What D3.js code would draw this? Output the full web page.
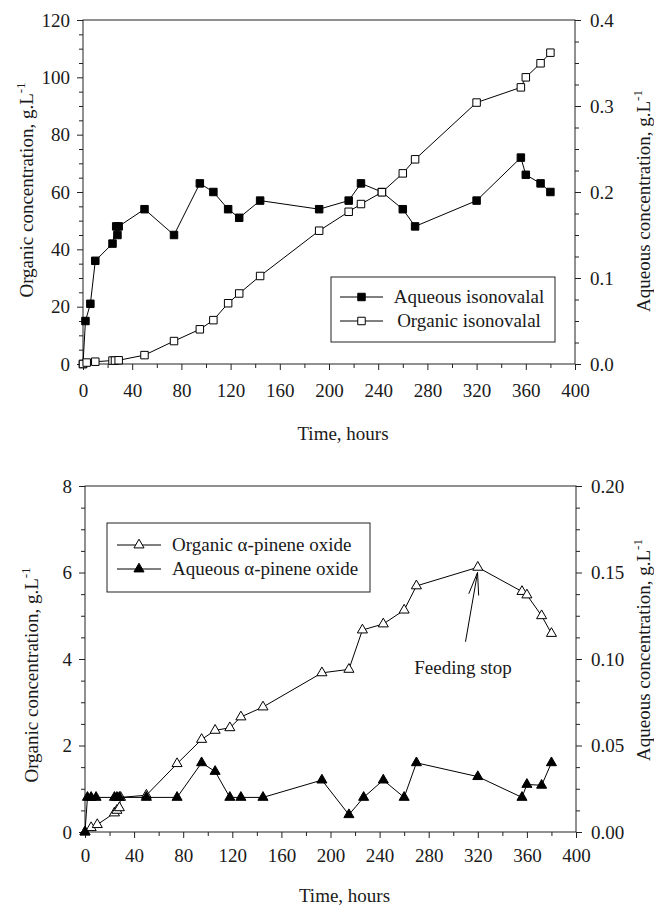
<!DOCTYPE html>
<html>
<head>
<meta charset="utf-8">
<script src="https://cdnjs.cloudflare.com/ajax/libs/d3/7.8.5/d3.min.js"></script>
<style>
    body { margin: 0; background: #fff; }
    svg text { font-family: "Liberation Serif", "Times New Roman", serif; fill: #1a1a1a; }
</style>
</head>
<body>
<svg id="chart" width="654" height="906"></svg>
<script>
/*-------------------------------------------------------*/
/*------------------------ Data -------------------------*/
/*-------------------------------------------------------*/
// top panel : isonovalal, aqueous on right axis (g/L), organic on left axis (g/L)
const iso_aq_time = [0, 2, 6, 10, 24, 27, 28, 29, 50, 74, 95, 106, 118, 127, 144, 192, 216, 226, 243, 260, 270, 320, 356, 360, 372, 380];
const iso_aq_value = [0, .05, .07, .12, .14, .16, .15, .16, .18, .15, .21, .20, .18, .17, .19, .18, .19, .21, .20, .18, .16, .19, .24, .22, .21, .20];

const iso_org_time = [0, 3, 10, 24, 26, 29, 50, 74, 95, 106, 118, 127, 144, 192, 216, 226, 243, 260, 270, 320, 356, 360, 372, 380];
const iso_org_value = [0, 0.5, 0.8, 1.2, 1.2, 1.3, 3.1, 8.0, 12.1, 15.3, 21.2, 24.6, 30.7, 46.5, 53.1, 55.8, 59.9, 66.5, 71.4, 91.2, 96.5, 100, 104.9, 108.6];

// bottom panel : alpha-pinene oxide
const apo_org_time = [0, 5, 10, 24, 26, 28, 29, 50, 75, 95, 106, 118, 127, 145, 193, 215, 226, 243, 260, 270, 320, 356, 360, 372, 380];
const apo_org_value = [0, 0.1, 0.17, 0.44, 0.5, 0.56, 0.8, 0.85, 1.58, 2.14, 2.35, 2.41, 2.66, 2.89, 3.68, 3.76, 4.67, 4.81, 5.13, 5.69, 6.12, 5.56, 5.48, 5.0, 4.59];

const apo_aq_time = [0, 2, 5, 9, 24, 26, 28, 50, 75, 95, 106, 118, 127, 145, 193, 215, 227, 243, 260, 270, 320, 356, 360, 372, 380];
const apo_aq_value = [0, .02, .02, .02, .02, .02, .02, .02, .02, .04, .035, .02, .02, .02, .03, .01, .02, .03, .02, .04, .032, .02, .0275, .027, .04];

// axis ticks
const time_ticks = [0, 40, 80, 120, 160, 200, 240, 280, 320, 360, 400];
const iso_org_ticks = [0, 20, 40, 60, 80, 100, 120];
const iso_aq_ticks = [0, 0.1, 0.2, 0.3, 0.4];
const apo_org_ticks = [0, 2, 4, 6, 8];
const apo_aq_ticks = [0, 0.05, 0.10, 0.15, 0.20];

// legend labels
const iso_legend = ["Aqueous isonovalal", "Organic isonovalal"];
const apo_legend = ["Organic \u03B1-pinene oxide", "Aqueous \u03B1-pinene oxide"];

// annotation : arrow from text to the last fed point
const feed_note = { label: "Feeding stop", textAt: [308, 3.65], from: [310, 4.4], to: [319.8, 6.0] };

const zip = (t, v) => t.map((d, i) => ({ t: d, v: v[i] }));

const svg = d3.select("#chart");

/*-------------------------------------------------------*/
/*---------------------- Markers ------------------------*/
/*-------------------------------------------------------*/
const sqSym = d3.symbol().type(d3.symbolSquare).size(56);
const triSym = d3.symbol().type(d3.symbolTriangle).size(44);

function drawSeries(g, data, x, y, sym, filled) {
    const line = d3.line().x(d => x(d.t)).y(d => y(d.v));
    g.append("path")
        .attr("d", line(data))
        .attr("fill", "none")
        .attr("stroke", "#000")
        .attr("stroke-width", 1);
    g.selectAll(null)
        .data(data)
        .enter()
        .append("path")
        .attr("d", sym())
        .attr("transform", d => `translate(${x(d.t)},${y(d.v)})`)
        .attr("fill", filled ? "#000" : "#fff")
        .attr("stroke", "#000")
        .attr("stroke-width", 1);
}

/*-------------------------------------------------------*/
/*----------------------- Panel -------------------------*/
/*-------------------------------------------------------*/
function drawPanel(p) {
    const g = svg.append("g");

    const x = d3.scaleLinear().domain([0, 400]).range([p.left, p.right]);
    const yL = d3.scaleLinear().domain([0, p.leftTicks[p.leftTicks.length - 1]]).range([p.bottom, p.top]);
    const yR = d3.scaleLinear().domain([0, p.rightTicks[p.rightTicks.length - 1]]).range([p.bottom, p.top]);

    const minor = (ticks, n) => {
        const step = (ticks[1] - ticks[0]) / n;
        return d3.range(0, ticks.length - 1).flatMap(i => d3.range(1, n).map(k => ticks[i] + k * step));
    };

    // minor ticks
    g.append("g").attr("transform", `translate(0,${p.bottom})`)
        .call(d3.axisBottom(x).tickValues(minor(time_ticks, 2)).tickSize(4).tickFormat(""));
    g.append("g").attr("transform", `translate(${p.left},0)`)
        .call(d3.axisLeft(yL).tickValues(minor(p.leftTicks, 4)).tickSize(4).tickFormat(""));
    g.append("g").attr("transform", `translate(${p.right},0)`)
        .call(d3.axisRight(yR).tickValues(minor(p.rightTicks, 4)).tickSize(4).tickFormat(""));

    // major ticks
    g.append("g").attr("class", "xa").attr("transform", `translate(0,${p.bottom})`)
        .call(d3.axisBottom(x).tickValues(time_ticks).tickSize(6).tickPadding(p.xPad));
    g.append("g").attr("class", "yl").attr("transform", `translate(${p.left},0)`)
        .call(d3.axisLeft(yL).tickValues(p.leftTicks).tickSize(6).tickPadding(7).tickFormat(d3.format("d")));
    g.append("g").attr("class", "yr").attr("transform", `translate(${p.right},0)`)
        .call(d3.axisRight(yR).tickValues(p.rightTicks).tickSize(6).tickPadding(9).tickFormat(d3.format(p.rightFmt)));

    g.selectAll(".domain").remove();
    g.selectAll(".tick line").attr("stroke", "#222");
    g.selectAll(".tick text").attr("font-size", 19).attr("font-family", "Liberation Serif").attr("fill", "#1a1a1a");

    // frame
    g.append("rect")
        .attr("x", p.left).attr("y", p.top)
        .attr("width", p.right - p.left).attr("height", p.bottom - p.top)
        .attr("fill", "none").attr("stroke", "#222").attr("stroke-width", 1);

    // axis titles
    g.append("text")
        .attr("x", (p.left + p.right) / 2 + 14).attr("y", p.xTitleY)
        .attr("text-anchor", "middle").attr("font-size", 19)
        .text("Time, hours");

    const yTitle = (label, cx, cy) => {
        const t = g.append("text")
            .attr("transform", `translate(${cx},${cy}) rotate(-90)`)
            .attr("text-anchor", "middle").attr("font-size", 19);
        t.append("tspan").text(label + " concentration, g.L");
        t.append("tspan").attr("font-size", 13).attr("dy", -8).text("-1");
    };
    yTitle("Organic", p.lTitle[0], p.lTitle[1]);
    yTitle("Aqueous", p.rTitle[0], p.rTitle[1]);

    return { g, x, yL, yR };
}

function drawLegend(g, box, rows) {
    g.append("rect")
        .attr("x", box.x).attr("y", box.y).attr("width", box.w).attr("height", box.h)
        .attr("fill", "#fff").attr("stroke", "#222").attr("stroke-width", 1);
    rows.forEach((r, i) => {
        const cy = box.rowY[i];
        g.append("line")
            .attr("x1", box.lineX[0]).attr("x2", box.lineX[1]).attr("y1", cy).attr("y2", cy)
            .attr("stroke", "#000");
        g.append("path")
            .attr("d", r.sym())
            .attr("transform", `translate(${(box.lineX[0] + box.lineX[1]) / 2},${cy})`)
            .attr("fill", r.filled ? "#000" : "#fff").attr("stroke", "#000");
        g.append("text")
            .attr("x", box.textX).attr("y", cy + 6)
            .attr("text-anchor", box.anchor).attr("font-size", 19)
            .text(r.label);
    });
}

/*-------------------------------------------------------*/
/*---------------------- Top chart ----------------------*/
/*-------------------------------------------------------*/
const top_p = drawPanel({
    left: 83, right: 575, top: 20, bottom: 364,
    leftTicks: iso_org_ticks, rightTicks: iso_aq_ticks, rightFmt: ".1f",
    xPad: 14, xTitleY: 440, lTitle: [33, 190], rTitle: [650, 201]
});
drawSeries(top_p.g, zip(iso_aq_time, iso_aq_value), top_p.x, top_p.yR, sqSym, true);
drawSeries(top_p.g, zip(iso_org_time, iso_org_value), top_p.x, top_p.yL, sqSym, false);
drawLegend(top_p.g,
    { x: 331, y: 277, w: 224, h: 65, rowY: [297, 321], lineX: [340, 383], textX: 469, anchor: "middle" },
    [{ label: iso_legend[0], sym: sqSym, filled: true }, { label: iso_legend[1], sym: sqSym, filled: false }]);

/*-------------------------------------------------------*/
/*--------------------- Bottom chart --------------------*/
/*-------------------------------------------------------*/
const bot_p = drawPanel({
    left: 85, right: 576, top: 486, bottom: 832,
    leftTicks: apo_org_ticks, rightTicks: apo_aq_ticks, rightFmt: ".2f",
    xPad: 11, xTitleY: 902, lTitle: [38, 675], rTitle: [650, 650]
});
drawSeries(bot_p.g, zip(apo_org_time, apo_org_value), bot_p.x, bot_p.yL, triSym, false);
drawSeries(bot_p.g, zip(apo_aq_time, apo_aq_value), bot_p.x, bot_p.yR, triSym, true);
drawLegend(bot_p.g,
    { x: 107, y: 523, w: 263, h: 69, rowY: [545, 569], lineX: [117, 161], textX: 172, anchor: "start" },
    [{ label: apo_legend[0], sym: triSym, filled: false }, { label: apo_legend[1], sym: triSym, filled: true }]);

// feeding stop arrow
const ax = bot_p.x, ay = bot_p.yL;
const tip = [ax(feed_note.to[0]), ay(feed_note.to[1])];
const tail = [ax(feed_note.from[0]), ay(feed_note.from[1])];
const ang = Math.atan2(tail[1] - tip[1], tail[0] - tip[0]);
const headLen = 23, headSpread = 0.22;
bot_p.g.append("line")
    .attr("x1", tail[0]).attr("y1", tail[1]).attr("x2", tip[0]).attr("y2", tip[1])
    .attr("stroke", "#000");
bot_p.g.append("path")
    .attr("d", d3.line()([
        [tip[0] + headLen * Math.cos(ang - headSpread), tip[1] + headLen * Math.sin(ang - headSpread)],
        tip,
        [tip[0] + headLen * Math.cos(ang + headSpread), tip[1] + headLen * Math.sin(ang + headSpread)]
    ]))
    .attr("fill", "none").attr("stroke", "#000");
bot_p.g.append("text")
    .attr("x", ax(feed_note.textAt[0])).attr("y", ay(feed_note.textAt[1]))
    .attr("text-anchor", "middle").attr("font-size", 19)
    .text(feed_note.label);
</script>
</body>
</html>
